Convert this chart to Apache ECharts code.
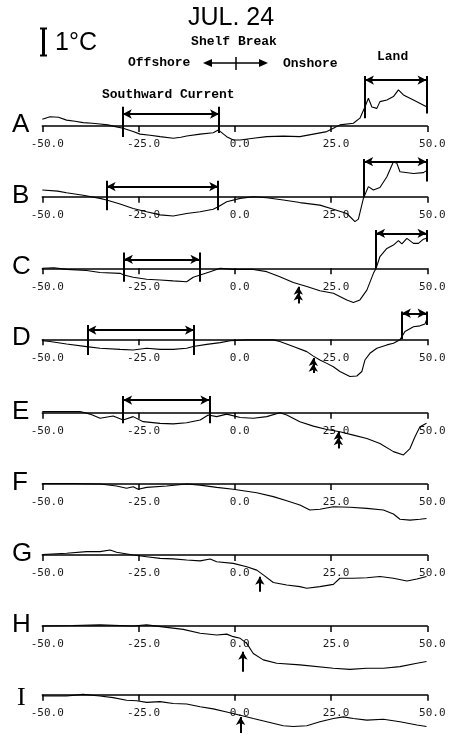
<!DOCTYPE html>
<html><head><meta charset="utf-8">
<script src="https://cdn.jsdelivr.net/npm/echarts@6/dist/echarts.min.js"></script>
<style>html,body{margin:0;padding:0;background:#fff}#c{width:458px;height:748px}</style>
</head><body><div id="c"></div><script>
// ---------- data ----------
const panelNames = ['A','B','C','D','E','F','G','H','I'];
const tickLabels = ['-50.0','-25.0','0.0','25.0','50.0'];
// temperature anomaly (°C) vs distance from shelf break
const tempA = [[-50,0.24],[-48,0.33],[-45.8,0.31],[-43.7,0.21],[-41.5,0.17],[-39.4,0.12],[-37,0.1],[-35,0.07],[-33,0.04],[-30.7,-0.03],[-29,-0.08],[-26.4,-0.2],[-24.6,-0.29],[-22,-0.33],[-19.4,-0.38],[-16,-0.44],[-14,-0.4],[-12.5,-0.36],[-9,-0.29],[-5.6,-0.24],[-4.3,-0.14],[-2.1,-0.38],[-0.4,-0.5],[1.4,-0.5],[4.8,-0.44],[8.3,-0.38],[12.6,-0.36],[16.9,-0.38],[20.4,-0.29],[23.9,-0.2],[25.6,-0.08],[27.3,0.04],[30.8,0.1],[32.5,0.28],[33.8,0.68],[34.7,0.99],[35.6,0.68],[36.9,0.63],[37.7,0.87],[39.5,0.93],[41.2,1.05],[42.5,1.29],[43.8,1.11],[46.4,0.93],[49.8,0.69]];
const tempB = [[-50,0.24],[-46,0.2],[-43.7,0.14],[-39.4,0.05],[-35,-0.06],[-33.3,-0.12],[-29.8,-0.26],[-26.4,-0.42],[-22.9,-0.54],[-19.4,-0.65],[-16,-0.69],[-12.5,-0.6],[-9,-0.54],[-5.6,-0.45],[-4.3,-0.36],[-2.1,-0.18],[1.4,-0.06],[4.8,0],[8.3,-0.04],[12.6,-0.12],[16.9,-0.21],[22.1,-0.3],[25.6,-0.45],[29.1,-0.6],[31.2,-0.89],[32.1,-0.8],[33.4,-0.06],[33.8,0],[34.7,0.36],[36,0.24],[37.7,0.33],[39.5,0.71],[41.2,1.25],[42.1,1.19],[42.9,0.89],[46.4,0.83],[49,0.86],[49.8,0.93]];
const tempC = [[-50,0],[-47,0.02],[-43.7,-0.04],[-38.5,-0.08],[-35,-0.15],[-29.8,-0.18],[-28.8,-0.24],[-26.4,-0.32],[-22.9,-0.39],[-19.4,-0.42],[-16,-0.45],[-12.5,-0.48],[-10.8,-0.32],[-9,-0.24],[-6.4,-0.12],[-3.8,0],[-0.4,-0.04],[4.8,-0.04],[8.3,-0.12],[11.7,-0.3],[15.2,-0.51],[18.7,-0.65],[22.1,-0.8],[25.6,-0.89],[29.1,-1.13],[30.8,-1.22],[32.5,-1.13],[34.3,-0.78],[36,-0.18],[36.7,0],[37.7,0.42],[39.5,0.71],[41.2,0.83],[42.5,0.99],[43.4,0.87],[44.7,1.07],[46.4,0.89],[47.7,0.89],[49,1.04],[49.8,1.07]];
const tempD = [[-50,-0.05],[-48,-0.08],[-43.7,-0.17],[-38.5,-0.26],[-35,-0.32],[-29.8,-0.36],[-26.4,-0.38],[-22.9,-0.32],[-19.4,-0.36],[-16,-0.36],[-12.5,-0.32],[-10.8,-0.26],[-7.3,-0.18],[-3.8,-0.12],[-1.2,-0.05],[3.1,-0.02],[10,-0.02],[11.7,-0.08],[15.2,-0.26],[18.7,-0.44],[20.4,-0.6],[22.1,-0.74],[23.9,-0.86],[25.6,-0.98],[27.3,-1.15],[29.9,-1.33],[31.7,-1.31],[33,-1.15],[33.8,-0.74],[35.1,-0.5],[36.9,-0.32],[39.5,-0.2],[41.2,-0.14],[42.9,-0.02],[43.4,0],[44.2,0.28],[46.4,0.45],[48.1,0.48],[49.4,0.55],[49.8,0.69]];
const tempE = [[-50,0.04],[-45,0.04],[-40.2,0.04],[-37.6,-0.05],[-35,-0.2],[-31.6,-0.12],[-29,-0.26],[-26.4,-0.14],[-23.8,-0.32],[-19.4,-0.38],[-16,-0.4],[-12.5,-0.36],[-9,-0.26],[-6.9,-0.08],[-4.7,-0.14],[-2.1,-0.05],[1.4,-0.17],[4.8,-0.2],[8.3,-0.14],[11.7,0],[13.5,-0.08],[16.9,-0.32],[20.4,-0.48],[23.9,-0.6],[27.3,-0.68],[30.8,-0.8],[34.3,-0.92],[37.7,-1.1],[41.2,-1.39],[43.8,-1.51],[45.5,-1.28],[46.8,-0.86],[48.1,-0.5],[49.8,-0.38]];
const tempF = [[-50,0.02],[-42,0.02],[-35,0],[-30.7,-0.07],[-28.1,-0.15],[-26.4,-0.1],[-25.1,-0.19],[-22.9,-0.12],[-17.7,-0.07],[-12.5,0],[-9,-0.04],[-4.7,-0.12],[-0.4,-0.19],[2.2,-0.24],[5.7,-0.31],[10,-0.45],[13.5,-0.6],[16.9,-0.75],[19.5,-0.93],[22.1,-0.9],[25.6,-0.81],[29.9,-0.83],[34.3,-0.87],[38.6,-0.93],[41.2,-1.07],[42.9,-1.26],[45.5,-1.29],[48.1,-1.26],[49.8,-1.23]];
const tempG = [[-50,0.02],[-43.7,0.06],[-38.5,0.12],[-35,0.12],[-32.4,0.18],[-30.7,0.1],[-26.4,0],[-22.9,-0.06],[-19.4,-0.12],[-16,-0.14],[-12.5,-0.18],[-9,-0.21],[-6.4,-0.14],[-4.7,-0.24],[-0.4,-0.3],[3.1,-0.42],[5.7,-0.54],[7.4,-0.71],[10,-0.98],[13.5,-1.07],[16.9,-1.13],[18.7,-1.19],[22.1,-1.13],[25.6,-1.05],[27.3,-0.83],[30.8,-0.83],[34.3,-0.81],[37.7,-0.77],[41.2,-0.83],[44.7,-0.93],[47.3,-0.86],[49.8,-0.77]];
const tempH = [[-50,0],[-42,0.02],[-35,0.04],[-26.4,0],[-22.9,0.04],[-17.7,-0.05],[-13.4,-0.12],[-9,-0.26],[-4.7,-0.32],[-2.1,-0.29],[-0.4,-0.38],[1.4,-0.44],[3.1,-0.62],[4.8,-0.98],[7.4,-1.21],[10.9,-1.33],[16.9,-1.39],[25.6,-1.51],[29.9,-1.55],[34.3,-1.51],[38.6,-1.51],[42.9,-1.45],[47.3,-1.33],[49.8,-1.27]];
const tempI = [[-50,0.04],[-43.7,0.04],[-39.4,0.1],[-35,0.04],[-31.6,-0.02],[-28.1,-0.12],[-25.5,-0.14],[-22.9,-0.2],[-19.4,-0.17],[-16,-0.24],[-12.5,-0.26],[-9,-0.36],[-5.6,-0.44],[-2.1,-0.56],[1.4,-0.68],[4.8,-0.8],[8.3,-0.92],[12.6,-1.07],[15.2,-1.1],[18.7,-1.07],[22.1,-0.92],[25.6,-0.8],[28.2,-0.74],[30.8,-0.8],[34.3,-0.86],[38.6,-0.83],[42.9,-0.92],[47.3,-1.04],[49.8,-1.1]];
const temps = [tempA,tempB,tempC,tempD,tempE,tempF,tempG,tempH,tempI];
// Southward Current and Land extents (km)
const currentSpans = [[-29.1,-4.1],[-33.3,-4.3],[-28.8,-9.2],[-38.3,-10.6],[-29.0,-6.6],null,null,null,null];
const landSpans = [[33.8,49.8],[33.6,49.8],[36.7,49.8],[43.4,49.8],null,null,null,null,null];
// front arrow positions (km) and whether double-headed
const frontX = [null,null,16.5,20.4,26.9,null,6.5,2.1,1.5];
const frontDouble = [false,false,true,true,true,false,false,false,false];

// ---------- layout ----------
const baselines = [126,196.7,268.3,339.3,412.7,484,555,626,699.3];
const PX = 28, R = 1.9;   // 28 px per degC
const scY = [[.43,.69,-.39,-.25],[.36,.57,-.48,-.48],[.32,.56,-.48,-.48],[.33,.51,-.56,-.56],[.45,.60,-.38,-.38]];
const landY = [[1.64,1.79,.28,.45],[1.25,1.35,0,.54],[1.25,1.37,0,.95],[.93,.99,0,.51]];
const arrowY = {2:[-.66,-1.25],3:[-.67,-1.2],4:[-.68,-1.27],6:[-.78,-1.31],7:[-.92,-1.63],8:[-.74,-1.34]};

function bracket(span, g){
  const [h, top, bl, br] = g, [x1, x2] = span;
  const A = {symbol:'arrow', symbolSize:[7,9]};
  return [
    [Object.assign({coord:[x1,h]},A), Object.assign({coord:[x2,h]},A)],
    [{coord:[x1,top]},{coord:[x1,bl]}],
    [{coord:[x2,top]},{coord:[x2,br]}]
  ];
}

const grids=[], xAxes=[], yAxes=[], series=[], graphics=[];
panelNames.forEach((nm,i)=>{
  const y0 = baselines[i];
  grids.push({left:42.3, right:30.7, top:y0 - R*PX, height:2*R*PX});
  xAxes.push({gridIndex:i, type:'value', min:-50, max:50, interval:25, position:'bottom', offset:-R*PX,
    axisLine:{onZero:false, lineStyle:{color:'#000', width:1.5}},
    axisTick:{length:6, lineStyle:{color:'#000', width:1.5}},
    splitLine:{show:false},
    axisLabel:{color:'#1a1a1a', fontFamily:'DejaVu Sans Mono', fontSize:11, margin:13, padding:[0,0,0,10],
      formatter:(v,idx)=>tickLabels[idx]}});
  yAxes.push({gridIndex:i, type:'value', min:-R, max:R, show:false});
  const ml = [];
  if (currentSpans[i]) ml.push(...bracket(currentSpans[i], scY[i]));
  if (landSpans[i]) ml.push(...bracket(landSpans[i], landY[i]));
  if (frontX[i] !== null) {
    const [t,b] = arrowY[i];
    ml.push([{coord:[frontX[i],b]},{coord:[frontX[i],t],symbol:'arrow',symbolSize:[7,8]}]);
    if (frontDouble[i]) ml.push([{coord:[frontX[i],b]},{coord:[frontX[i],t-0.2],symbol:'arrow',symbolSize:[7,8]}]);
  }
  series.push({type:'line', xAxisIndex:i, yAxisIndex:i, data:temps[i], symbol:'none', silent:true,
    animation:false, clip:false, lineStyle:{color:'#000', width:1.1},
    markLine:{silent:true, animation:false, symbol:['none','none'], label:{show:false},
      emphasis:{disabled:true},
      lineStyle:{color:'#000', width:2, type:'solid'}, data:ml}});
  const isI = nm === 'I';
  graphics.push({type:'text', x: isI?17:12, y:y0-1, style:{text:nm, font: isI?'26px "Liberation Serif"':'26px "Liberation Sans"', fill:'#000', align:'left', verticalAlign:'middle'}});
});

const mono = 'bold 13px "Liberation Mono"';
graphics.push(
  {type:'text', x:231, y:18, style:{text:'JUL. 24', font:'25px "Liberation Sans"', fill:'#000', align:'center', verticalAlign:'middle'}},
  {type:'line', shape:{x1:43.5,y1:28,x2:43.5,y2:56}, style:{stroke:'#000', lineWidth:3}},
  {type:'line', shape:{x1:40,y1:28.5,x2:47,y2:28.5}, style:{stroke:'#000', lineWidth:2}},
  {type:'line', shape:{x1:40,y1:55.5,x2:47,y2:55.5}, style:{stroke:'#000', lineWidth:2}},
  {type:'text', x:55, y:43, style:{text:'1°C', font:'25px "Liberation Sans"', fill:'#000', align:'left', verticalAlign:'middle'}},
  {type:'text', x:234, y:42, style:{text:'Shelf Break', font:mono, fill:'#000', align:'center', verticalAlign:'middle'}},
  {type:'text', x:128, y:63, style:{text:'Offshore', font:mono, fill:'#000', align:'left', verticalAlign:'middle'}},
  {type:'text', x:283, y:64, style:{text:'Onshore', font:mono, fill:'#000', align:'left', verticalAlign:'middle'}},
  {type:'line', shape:{x1:206,y1:63,x2:265,y2:63}, style:{stroke:'#000', lineWidth:1.5}},
  {type:'polygon', shape:{points:[[203,63],[212,59],[212,67]]}, style:{fill:'#000'}},
  {type:'polygon', shape:{points:[[268,63],[259,59],[259,67]]}, style:{fill:'#000'}},
  {type:'line', shape:{x1:236,y1:57,x2:236,y2:70}, style:{stroke:'#000', lineWidth:1.5}},
  {type:'text', x:377, y:57, style:{text:'Land', font:mono, fill:'#000', align:'left', verticalAlign:'middle'}},
  {type:'text', x:102, y:95, style:{text:'Southward Current', font:mono, fill:'#000', align:'left', verticalAlign:'middle'}}
);

const chart = echarts.init(document.getElementById('c'), null, {renderer:'canvas'});
chart.setOption({backgroundColor:'#fff', animation:false, grid:grids, xAxis:xAxes, yAxis:yAxes, series:series, graphic:graphics});
</script></body></html>
